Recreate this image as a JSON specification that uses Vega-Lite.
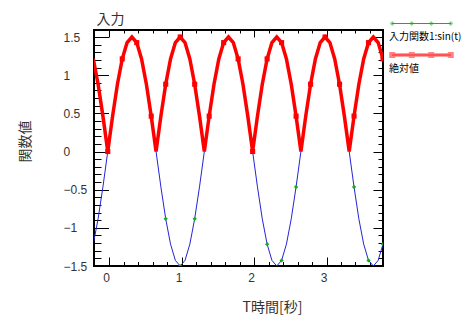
{
  "$schema": "https://vega.github.io/schema/vega-lite/v6.json",
  "autosize": "none",
  "width": 289,
  "height": 236,
  "padding": {"left": 94, "top": 30, "right": 91, "bottom": 63},
  "config": {
    "view": {"stroke": "#000", "strokeWidth": 2},
    "axis": {"grid": false, "domain": false, "tickColor": "#000", "tickWidth": 1, "labelFont": "Liberation Sans", "labelFontSize": 12, "labelColor": "#333", "labelFlush": false, "labelBound": false, "labelOverlap": false, "titleFont": "Noto Sans CJK JP", "titleFontWeight": "normal", "titleFontSize": 14, "titleColor": "#333"}
  },
  "datasets": {
    "curve": [
      {"t": -0.22, "s": -1.2135, "a": 1.2135},
      {"t": -0.1533, "s": -0.8817, "a": 0.8817},
      {"t": -0.0867, "s": -0.4635, "a": 0.4635},
      {"t": -0.02, "s": 0, "a": 0},
      {"t": 0.0467, "s": 0.4635, "a": 0.4635},
      {"t": 0.1133, "s": 0.8817, "a": 0.8817},
      {"t": 0.18, "s": 1.2135, "a": 1.2135},
      {"t": 0.2467, "s": 1.4266, "a": 1.4266},
      {"t": 0.3133, "s": 1.5, "a": 1.5},
      {"t": 0.38, "s": 1.4266, "a": 1.4266},
      {"t": 0.4467, "s": 1.2135, "a": 1.2135},
      {"t": 0.5133, "s": 0.8817, "a": 0.8817},
      {"t": 0.58, "s": 0.4635, "a": 0.4635},
      {"t": 0.6467, "s": 0, "a": 0},
      {"t": 0.7133, "s": -0.4635, "a": 0.4635},
      {"t": 0.78, "s": -0.8817, "a": 0.8817},
      {"t": 0.8467, "s": -1.2135, "a": 1.2135},
      {"t": 0.9133, "s": -1.4266, "a": 1.4266},
      {"t": 0.98, "s": -1.5, "a": 1.5},
      {"t": 1.0467, "s": -1.4266, "a": 1.4266},
      {"t": 1.1133, "s": -1.2135, "a": 1.2135},
      {"t": 1.18, "s": -0.8817, "a": 0.8817},
      {"t": 1.2467, "s": -0.4635, "a": 0.4635},
      {"t": 1.3133, "s": 0, "a": 0},
      {"t": 1.38, "s": 0.4635, "a": 0.4635},
      {"t": 1.4467, "s": 0.8817, "a": 0.8817},
      {"t": 1.5133, "s": 1.2135, "a": 1.2135},
      {"t": 1.58, "s": 1.4266, "a": 1.4266},
      {"t": 1.6467, "s": 1.5, "a": 1.5},
      {"t": 1.7133, "s": 1.4266, "a": 1.4266},
      {"t": 1.78, "s": 1.2135, "a": 1.2135},
      {"t": 1.8467, "s": 0.8817, "a": 0.8817},
      {"t": 1.9133, "s": 0.4635, "a": 0.4635},
      {"t": 1.98, "s": 0, "a": 0},
      {"t": 2.0467, "s": -0.4635, "a": 0.4635},
      {"t": 2.1133, "s": -0.8817, "a": 0.8817},
      {"t": 2.18, "s": -1.2135, "a": 1.2135},
      {"t": 2.2467, "s": -1.4266, "a": 1.4266},
      {"t": 2.3133, "s": -1.5, "a": 1.5},
      {"t": 2.38, "s": -1.4266, "a": 1.4266},
      {"t": 2.4467, "s": -1.2135, "a": 1.2135},
      {"t": 2.5133, "s": -0.8817, "a": 0.8817},
      {"t": 2.58, "s": -0.4635, "a": 0.4635},
      {"t": 2.6467, "s": 0, "a": 0},
      {"t": 2.7133, "s": 0.4635, "a": 0.4635},
      {"t": 2.78, "s": 0.8817, "a": 0.8817},
      {"t": 2.8467, "s": 1.2135, "a": 1.2135},
      {"t": 2.9133, "s": 1.4266, "a": 1.4266},
      {"t": 2.98, "s": 1.5, "a": 1.5},
      {"t": 3.0467, "s": 1.4266, "a": 1.4266},
      {"t": 3.1133, "s": 1.2135, "a": 1.2135},
      {"t": 3.18, "s": 0.8817, "a": 0.8817},
      {"t": 3.2467, "s": 0.4635, "a": 0.4635},
      {"t": 3.3133, "s": 0, "a": 0},
      {"t": 3.38, "s": -0.4635, "a": 0.4635},
      {"t": 3.4467, "s": -0.8817, "a": 0.8817},
      {"t": 3.5133, "s": -1.2135, "a": 1.2135},
      {"t": 3.58, "s": -1.4266, "a": 1.4266},
      {"t": 3.6467, "s": -1.5, "a": 1.5},
      {"t": 3.7133, "s": -1.4266, "a": 1.4266},
      {"t": 3.78, "s": -1.2135, "a": 1.2135}
    ],
    "markers": [
      {"t": -0.02, "s": 0, "a": 0},
      {"t": 0.18, "s": 1.2135, "a": 1.2135},
      {"t": 0.38, "s": 1.4266, "a": 1.4266},
      {"t": 0.58, "s": 0.4635, "a": 0.4635},
      {"t": 0.78, "s": -0.8817, "a": 0.8817},
      {"t": 0.98, "s": -1.5, "a": 1.5},
      {"t": 1.18, "s": -0.8817, "a": 0.8817},
      {"t": 1.38, "s": 0.4635, "a": 0.4635},
      {"t": 1.58, "s": 1.4266, "a": 1.4266},
      {"t": 1.78, "s": 1.2135, "a": 1.2135},
      {"t": 1.98, "s": 0, "a": 0},
      {"t": 2.18, "s": -1.2135, "a": 1.2135},
      {"t": 2.38, "s": -1.4266, "a": 1.4266},
      {"t": 2.58, "s": -0.4635, "a": 0.4635},
      {"t": 2.78, "s": 0.8817, "a": 0.8817},
      {"t": 2.98, "s": 1.5, "a": 1.5},
      {"t": 3.18, "s": 0.8817, "a": 0.8817},
      {"t": 3.38, "s": -0.4635, "a": 0.4635},
      {"t": 3.58, "s": -1.4266, "a": 1.4266},
      {"t": 3.78, "s": -1.2135, "a": 1.2135}
    ],
    "none": []
  },
  "layer": [
    {
      "data": {"name": "curve"},
      "mark": {"type": "line", "color": "#2424d8", "strokeWidth": 1, "clip": true},
      "encoding": {
        "x": {"field": "t", "type": "quantitative", "scale": {"domain": [-0.21, 3.78], "nice": false, "zero": false},
          "axis": {"orient": "bottom", "values": [0, 1, 2, 3], "tickSize": -9, "labelPadding": 20.5, "labelBaseline": "middle", "labelOffset": -3, "format": "~g", "title": "T時間[秒]", "titleX": 178, "titleY": 41, "titleAlign": "center", "titleBaseline": "middle"}},
        "y": {"field": "s", "type": "quantitative", "scale": {"domain": [-1.5, 1.592], "nice": false, "zero": false},
          "axis": {"orient": "left", "values": [-1.5, -1, -0.5, 0, 0.5, 1, 1.5], "tickSize": -14.5, "labelAlign": "left", "labelBaseline": "middle", "labelPadding": 45.5, "format": "~g", "title": "関数値", "titleX": -69, "titleY": 111, "titleAngle": -90, "titleAlign": "center", "titleBaseline": "middle"}}
      }
    },
    {
      "data": {"name": "markers"},
      "mark": {"type": "point", "shape": "diamond", "filled": true, "color": "#10b010", "size": 18, "opacity": 1, "clip": true},
      "encoding": {
        "x": {"field": "t", "type": "quantitative", "scale": {"domain": [-0.21, 3.78], "nice": false, "zero": false},
          "axis": {"orient": "bottom", "values": [0, 0.2, 0.4, 0.6, 0.8, 1, 1.2, 1.4, 1.6, 1.8, 2, 2.2, 2.4, 2.6, 2.8, 3, 3.2, 3.4, 3.6], "tickSize": -4.5, "labels": false, "title": null}},
        "y": {"field": "s", "type": "quantitative", "scale": {"domain": [-1.5, 1.592], "nice": false, "zero": false},
          "axis": {"orient": "left", "values": [-1.5, -1.4, -1.3, -1.2, -1.1, -1, -0.9, -0.8, -0.7, -0.6, -0.5, -0.4, -0.3, -0.2, -0.1, 0, 0.1, 0.2, 0.3, 0.4, 0.5, 0.6, 0.7, 0.8, 0.9, 1, 1.1, 1.2, 1.3, 1.4, 1.5], "tickSize": -7, "labels": false, "title": null}}
      }
    },
    {
      "data": {"name": "curve"},
      "mark": {"type": "line", "color": "#ff0000", "strokeWidth": 3.5, "clip": true},
      "encoding": {
        "x": {"field": "t", "type": "quantitative", "scale": {"domain": [-0.21, 3.78], "nice": false, "zero": false},
          "axis": {"orient": "top", "values": [0, 1, 2, 3], "tickSize": -7, "labels": false, "title": "入力", "titleX": 2, "titleY": -11, "titleAlign": "left", "titleBaseline": "middle", "titleAngle": 0}},
        "y": {"field": "a", "type": "quantitative", "scale": {"domain": [-1.5, 1.592], "nice": false, "zero": false},
          "axis": {"orient": "right", "values": [-1.5, -1, -0.5, 0, 0.5, 1, 1.5], "tickSize": -10, "labels": false, "title": null}}
      }
    },
    {
      "data": {"name": "markers"},
      "mark": {"type": "point", "shape": "square", "filled": true, "color": "#ff0000", "size": 26, "opacity": 1, "clip": true},
      "encoding": {
        "x": {"field": "t", "type": "quantitative", "scale": {"domain": [-0.21, 3.78], "nice": false, "zero": false},
          "axis": {"orient": "top", "values": [0, 0.2, 0.4, 0.6, 0.8, 1, 1.2, 1.4, 1.6, 1.8, 2, 2.2, 2.4, 2.6, 2.8, 3, 3.2, 3.4, 3.6], "tickSize": -3, "labels": false, "title": null}},
        "y": {"field": "a", "type": "quantitative", "scale": {"domain": [-1.5, 1.592], "nice": false, "zero": false},
          "axis": {"orient": "right", "values": [-1.5, -1.4, -1.3, -1.2, -1.1, -1, -0.9, -0.8, -0.7, -0.6, -0.5, -0.4, -0.3, -0.2, -0.1, 0, 0.1, 0.2, 0.3, 0.4, 0.5, 0.6, 0.7, 0.8, 0.9, 1, 1.1, 1.2, 1.3, 1.4, 1.5], "tickSize": -5, "labels": false, "title": null}}
      }
    },
    {
      "data": {"name": "none"},
      "mark": {"type": "point", "filled": false},
      "encoding": {
        "stroke": {"field": "s1", "type": "nominal",
          "scale": {"domain": ["入力関数1:sin(t)", "絶対値"], "range": ["#2424d8", "#ff0000"]},
          "legend": {"orient": "none", "legendX": 322, "legendY": 1.5, "title": null, "padding": 0, "symbolType": "M-5.9,-2.7L5.9,-2.7M-6.45,-3.3M6.45,1.4", "symbolSize": 100, "symbolStrokeWidth": 1, "symbolFillColor": "transparent", "labelOffset": -38, "labelFont": "Noto Sans CJK JP", "labelFontSize": 10, "labelColor": "#000", "labelBaseline": "middle", "labelLimit": 200, "rowPadding": 3.5}}
      }
    },
    {
      "data": {"name": "none"},
      "mark": {"type": "point", "filled": true},
      "encoding": {
        "fill": {"field": "s2", "type": "nominal",
          "scale": {"domain": ["A", "B"], "range": ["#10b010", "#ff0000"]},
          "legend": {"orient": "none", "legendX": 322, "legendY": 1.5, "title": null, "padding": 0, "symbolSize": 100, "symbolStrokeWidth": 1, "symbolStrokeColor": "transparent", "labelOffset": -38, "labelExpr": "''", "labelFont": "Noto Sans CJK JP", "labelFontSize": 10, "labelOpacity": 0, "labelBaseline": "middle", "labelLimit": 200, "rowPadding": 3.5}},
        "shape": {"field": "s2", "type": "nominal",
          "scale": {"domain": ["A", "B"], "range": ["M-6.35,-2.7L-5.85,-3.2L-5.35,-2.7L-5.85,-2.2ZM-2.45,-2.7L-1.95,-3.2L-1.45,-2.7L-1.95,-2.2ZM1.45,-2.7L1.95,-3.2L2.45,-2.7L1.95,-2.2ZM5.35,-2.7L5.85,-3.2L6.35,-2.7L5.85,-2.2ZM-6.45,-3.3M6.45,1.4", "M-5.9,-3.05L5.9,-3.05L5.9,-2.35L-5.9,-2.35ZM-6.45,-3.3L-5.25,-3.3L-5.25,-2.1L-6.45,-2.1ZM-2.55,-3.3L-1.35,-3.3L-1.35,-2.1L-2.55,-2.1ZM1.35,-3.3L2.55,-3.3L2.55,-2.1L1.35,-2.1ZM5.25,-3.3L6.45,-3.3L6.45,-2.1L5.25,-2.1ZM6.45,1.4"]},
          "legend": {"orient": "none", "legendX": 322, "legendY": 1.5, "title": null, "padding": 0, "symbolSize": 100, "symbolStrokeWidth": 1, "symbolStrokeColor": "transparent", "labelOffset": -38, "labelExpr": "''", "labelFont": "Noto Sans CJK JP", "labelFontSize": 10, "labelOpacity": 0, "labelBaseline": "middle", "labelLimit": 200, "rowPadding": 3.5}}
      }
    }
  ],
  "resolve": {"scale": {"x": "independent", "y": "independent"}}
}
